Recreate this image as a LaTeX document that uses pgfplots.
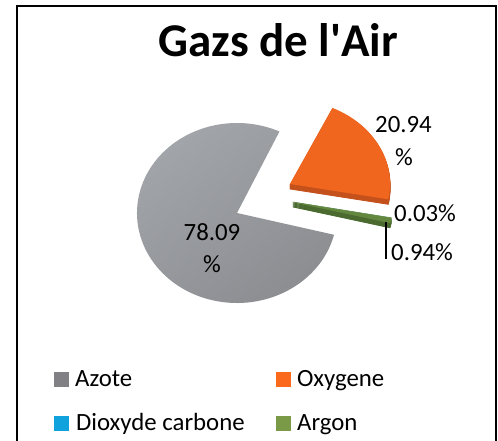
\documentclass[border=0pt]{standalone}
\usepackage{pgfplots}
\usepackage{pgfplotstable}
\pgfplotsset{compat=1.18}
\usepackage{fontspec}
\setmainfont{Carlito}
\definecolor{azote}{HTML}{808085}
\definecolor{azoteA}{HTML}{A2A5A9}
\definecolor{azoteB}{HTML}{8B8D91}
\definecolor{oxy}{HTML}{FB6A1C}
\definecolor{oxyT}{HTML}{F0661E}
\definecolor{oxyS}{HTML}{C4511B}
\definecolor{co2}{HTML}{10A2DC}
\definecolor{argon}{HTML}{7A9A48}
\definecolor{argonT}{HTML}{64873F}
\definecolor{argonS}{HTML}{4A6A30}

\pgfplotstableread{
name value cx cy
Azote 78.09 237 228
Oxygene 20.94 290 257
CO2 0.03 293 239
Argon 0.94 293 239
}\gaz

\pgfplotstablegetelem{0}{value}\of\gaz \let\vA\pgfplotsretval
\pgfplotstablegetelem{1}{value}\of\gaz \let\vB\pgfplotsretval
\pgfplotstablegetelem{2}{value}\of\gaz \let\vC\pgfplotsretval
\pgfplotstablegetelem{3}{value}\of\gaz \let\vD\pgfplotsretval
\pgfplotstablegetelem{0}{cx}\of\gaz \let\xA\pgfplotsretval
\pgfplotstablegetelem{0}{cy}\of\gaz \let\yA\pgfplotsretval
\pgfplotstablegetelem{1}{cx}\of\gaz \let\xB\pgfplotsretval
\pgfplotstablegetelem{1}{cy}\of\gaz \let\yB\pgfplotsretval
\pgfplotstablegetelem{2}{cx}\of\gaz \let\xC\pgfplotsretval
\pgfplotstablegetelem{2}{cy}\of\gaz \let\yC\pgfplotsretval
\pgfplotstablegetelem{3}{cx}\of\gaz \let\xD\pgfplotsretval
\pgfplotstablegetelem{3}{cy}\of\gaz \let\yD\pgfplotsretval

\pgfmathsetmacro\sA{-14}
\pgfmathsetmacro\eA{\sA-3.6*\vA}
\pgfmathsetmacro\eB{\eA-3.6*\vB}
\pgfmathsetmacro\eC{\eB-3.6*\vC}
\pgfmathsetmacro\eD{\eC-3.6*\vD}

\newcommand\lbl{\fontsize{24.8pt}{33pt}\selectfont}

\begin{document}
\begin{tikzpicture}
\begin{axis}[
  scale only axis, width=498pt, height=441pt,
  xmin=0, xmax=498, ymin=0, ymax=441,
  hide axis, clip=false,
]
% sides (depth)
\pgfplotsinvokeforeach{1,2,3,4,5}{
  \filldraw[oxyS, line width=0.8pt, line join=round] (\xB,\yB-#1) -- ++(\eA:100pt and 84pt) arc[start angle=\eA, end angle=\eB, x radius=100pt, y radius=84pt] -- cycle;
  \filldraw[argonS, line width=0.8pt, line join=round] (\xD,\yD-#1) -- ++(\eC:100pt and 86pt) arc[start angle=\eC, end angle=\eD, x radius=100pt, y radius=86pt] -- cycle;
}
% top faces
\shade[top color=azoteA, bottom color=azoteB, shading angle=35] (\xA,\yA) -- ++(\sA:100pt and 90pt) arc[start angle=\sA, end angle=\eA, x radius=100pt, y radius=90pt] -- cycle;
\fill[oxyT] (\xB,\yB) -- ++(\eA:100pt and 84pt) arc[start angle=\eA, end angle=\eB, x radius=100pt, y radius=84pt] -- cycle;
\fill[co2] (\xC,\yC) -- ++(\eB:100pt and 86pt) arc[start angle=\eB, end angle=\eC, x radius=100pt, y radius=86pt] -- cycle;
\filldraw[argonT, line width=0.6pt, line join=round] (\xD,\yD) -- ++(\eC:100pt and 86pt) arc[start angle=\eC, end angle=\eD, x radius=100pt, y radius=86pt] -- cycle;

% data labels
\node[anchor=base, inner sep=0pt, font=\lbl] at (212,200) {78.09};
\node[anchor=base, inner sep=0pt, font=\lbl] at (212,168) {\%};
\node[anchor=base, inner sep=0pt, font=\lbl] at (403.5,308) {20.94};
\node[anchor=base, inner sep=0pt, font=\lbl] at (404,275) {\%};
\node[anchor=base west, inner sep=0pt, font=\lbl] at (394,219) {0.03\%};
\node[anchor=base west, inner sep=0pt, font=\lbl] at (391,180) {0.94\%};
\draw[black, line width=1.2pt] (386,219) -- (386,182);

% title
\node[anchor=base, inner sep=0pt, font=\fontsize{47pt}{56pt}\selectfont\bfseries] at (278.5,384) {Gazs de l\textquotesingle Air};

% legend
\fill[azote] (54,54) rectangle (69,69);
\node[anchor=base west, inner sep=0pt, font=\lbl] at (75,54) {Azote};
\fill[oxy] (276,54) rectangle (291,69);
\node[anchor=base west, inner sep=0pt, font=\lbl] at (297,54) {Oxygene};
\fill[co2] (54,10) rectangle (69,25);
\node[anchor=base west, inner sep=0pt, font=\lbl] at (76,10) {Dioxyde carbone};
\fill[argon] (276,10) rectangle (291,25);
\node[anchor=base west, inner sep=0pt, font=\lbl] at (297,10) {Argon};

% frame
\draw[black, line width=2pt] (17,-10) -- (17,435) -- (496,435) -- (496,-10);
\end{axis}
\pgfresetboundingbox
\useasboundingbox (0,0) rectangle (498pt,441pt);
\end{tikzpicture}
\end{document}
